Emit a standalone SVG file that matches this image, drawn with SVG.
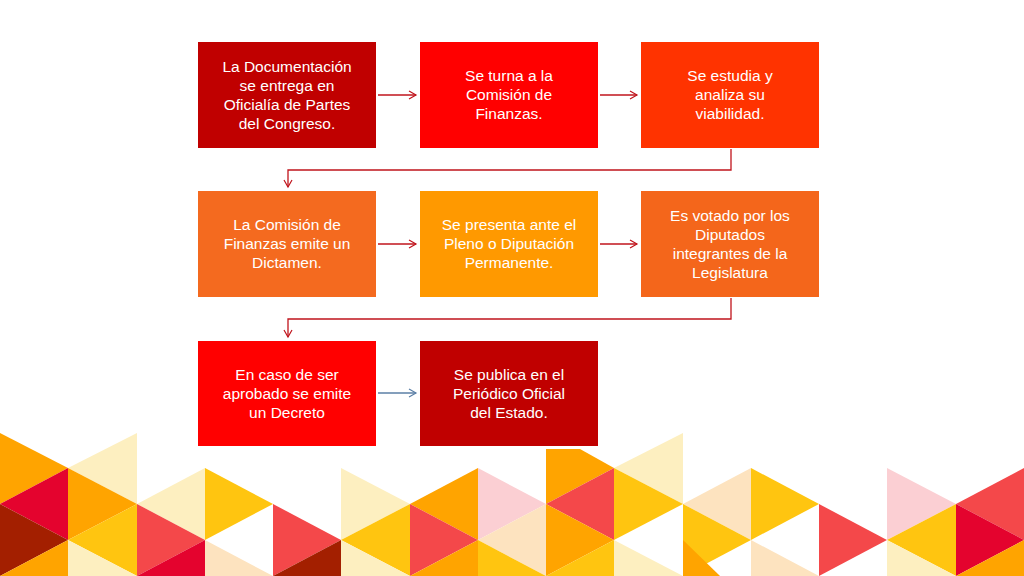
<svg xmlns="http://www.w3.org/2000/svg" width="1024" height="576" viewBox="0 0 1024 576">
<style>
.t{font-family:"Liberation Sans",Arial,sans-serif;font-size:15.5px;fill:#fff;text-anchor:middle}
.c{fill:none;stroke:#C0141C;stroke-width:1.3}
.or{fill:#FFA400}.cr{fill:#E4032E}.db{fill:#A31F00}.pa{fill:#FDEFC0}.ye{fill:#FFC510}.co{fill:#F4484A}.pk{fill:#FBCFD3}.pe{fill:#FDE3BF}
</style>
<defs>
<marker id="a" markerWidth="10" markerHeight="10" refX="8" refY="5" orient="auto" markerUnits="userSpaceOnUse"><path d="M1,1 L8,5 L1,9" fill="none" stroke="#C0141C" stroke-width="1.2"/></marker>
<marker id="b" markerWidth="10" markerHeight="10" refX="8" refY="5" orient="auto" markerUnits="userSpaceOnUse"><path d="M1,1 L8,5 L1,9" fill="none" stroke="#5B7FA6" stroke-width="1.2"/></marker>
</defs>
<rect width="1024" height="576" fill="#fff"/>
<g id="background">
<!-- strip 0 x0-68 -->
<polygon class="or" points="0,433 0,504 68,468"/>
<polygon class="cr" points="68,468 68,540 0,504"/>
<polygon class="db" points="0,504 0,576 68,540"/>
<polygon class="or" points="68,540 68,612 0,576"/>
<!-- strip 1 68-137 -->
<polygon class="pa" points="137,433 137,504 68,468"/>
<polygon class="or" points="68,468 68,540 137,504"/>
<polygon class="ye" points="137,504 137,576 68,540"/>
<polygon class="pa" points="68,540 68,612 137,576"/>
<!-- strip 2 137-205 -->
<polygon class="pa" points="205,468 205,540 137,504"/>
<polygon class="co" points="137,504 137,576 205,540"/>
<polygon class="cr" points="205,540 205,612 137,576"/>
<!-- strip 3 205-273 -->
<polygon class="ye" points="205,468 205,540 273,504"/>
<polygon class="pe" points="205,540 205,612 273,576"/>
<!-- strip 4 273-341 -->
<polygon class="co" points="273,504 273,576 341,540"/>
<polygon class="db" points="341,540 341,612 273,576"/>
<!-- strip 5 341-410 -->
<polygon class="pa" points="341,468 341,540 410,504"/>
<polygon class="ye" points="410,504 410,576 341,540"/>
<polygon class="pa" points="341,540 341,612 410,576"/>
<!-- strip 6 410-478 -->
<polygon class="or" points="478,468 478,540 410,504"/>
<polygon class="co" points="410,504 410,576 478,540"/>
<polygon class="or" points="478,540 478,612 410,576"/>
<!-- strip 7 478-546 -->
<polygon class="pk" points="478,468 478,540 546,504"/>
<polygon class="pe" points="546,504 546,576 478,540"/>
<polygon class="ye" points="478,540 478,612 546,576"/>
<!-- strip 8 546-614 -->
<polygon class="or" points="546,449 580,449 614,468 546,504"/>
<polygon class="co" points="614,468 614,540 546,504"/>
<polygon class="or" points="546,504 546,576 614,540"/>
<polygon class="ye" points="614,540 614,612 546,576"/>
<!-- strip 9 614-683 -->
<polygon class="pa" points="683,433 683,504 614,468"/>
<polygon class="ye" points="614,468 614,540 683,504"/>
<polygon class="pa" points="614,540 614,612 683,576"/>
<!-- strip 10 683-751 -->
<polygon class="pe" points="751,468 751,540 683,504"/>
<polygon class="ye" points="683,504 683,576 751,540"/>
<polygon class="or" points="683,540 683,576 720,576"/>
<!-- strip 11 751-819 -->
<polygon class="ye" points="751,468 751,540 819,504"/>
<polygon class="pe" points="751,540 751,612 819,576"/>
<!-- strip 12 819-887 -->
<polygon class="co" points="819,504 819,576 887,540"/>
<!-- strip 13 887-956 -->
<polygon class="pk" points="887,468 887,540 956,504"/>
<polygon class="ye" points="956,504 956,576 887,540"/>
<polygon class="pa" points="887,540 887,612 956,576"/>
<!-- strip 14 956-1024 -->
<polygon class="co" points="1024,468 1024,540 956,504"/>
<polygon class="cr" points="956,504 956,576 1024,540"/>
<polygon class="or" points="1024,540 1024,612 956,576"/>
</g>
<g id="connectors">
<line class="c" x1="378" y1="95" x2="416" y2="95" marker-end="url(#a)"/>
<line class="c" x1="600" y1="95" x2="637" y2="95" marker-end="url(#a)"/>
<polyline class="c" points="731,149 731,170 288,170 288,187" marker-end="url(#a)"/>
<line class="c" x1="378" y1="244" x2="416" y2="244" marker-end="url(#a)"/>
<line class="c" x1="600" y1="244" x2="637" y2="244" marker-end="url(#a)"/>
<polyline class="c" points="731,298 731,319 288,319 288,337" marker-end="url(#a)"/>
<line x1="378" y1="393" x2="416" y2="393" stroke="#5B7FA6" stroke-width="1.3" marker-end="url(#b)"/>
</g>
<g id="n1"><rect x="198" y="42" width="178" height="106" fill="#C00000"/><text class="t" x="287" y="72">La Documentación<tspan x="287" dy="19">se entrega en</tspan><tspan x="287" dy="19">Oficialía de Partes</tspan><tspan x="287" dy="19">del Congreso.</tspan></text></g>
<g id="n2"><rect x="420" y="42" width="178" height="106" fill="#FF0000"/><text class="t" x="509" y="81">Se turna a la<tspan x="509" dy="19">Comisión de</tspan><tspan x="509" dy="19">Finanzas.</tspan></text></g>
<g id="n3"><rect x="641" y="42" width="178" height="106" fill="#FF3300"/><text class="t" x="730" y="81">Se estudia y<tspan x="730" dy="19">analiza su</tspan><tspan x="730" dy="19">viabilidad.</tspan></text></g>
<g id="n4"><rect x="198" y="191" width="178" height="106" fill="#F46A1F"/><text class="t" x="287" y="230">La Comisión de<tspan x="287" dy="19">Finanzas emite un</tspan><tspan x="287" dy="19">Dictamen.</tspan></text></g>
<g id="n5"><rect x="420" y="191" width="178" height="106" fill="#FF9900"/><text class="t" x="509" y="230">Se presenta ante el<tspan x="509" dy="19">Pleno o Diputación</tspan><tspan x="509" dy="19">Permanente.</tspan></text></g>
<g id="n6"><rect x="641" y="191" width="178" height="106" fill="#F4661B"/><text class="t" x="730" y="221">Es votado por los<tspan x="730" dy="19">Diputados</tspan><tspan x="730" dy="19">integrantes de la</tspan><tspan x="730" dy="19">Legislatura</tspan></text></g>
<g id="n7"><rect x="198" y="341" width="178" height="105" fill="#FF0000"/><text class="t" x="287" y="380">En caso de ser<tspan x="287" dy="19">aprobado se emite</tspan><tspan x="287" dy="19">un Decreto</tspan></text></g>
<g id="n8"><rect x="420" y="341" width="178" height="105" fill="#C00000"/><text class="t" x="509" y="380">Se publica en el<tspan x="509" dy="19">Periódico Oficial</tspan><tspan x="509" dy="19">del Estado.</tspan></text></g>
</svg>
